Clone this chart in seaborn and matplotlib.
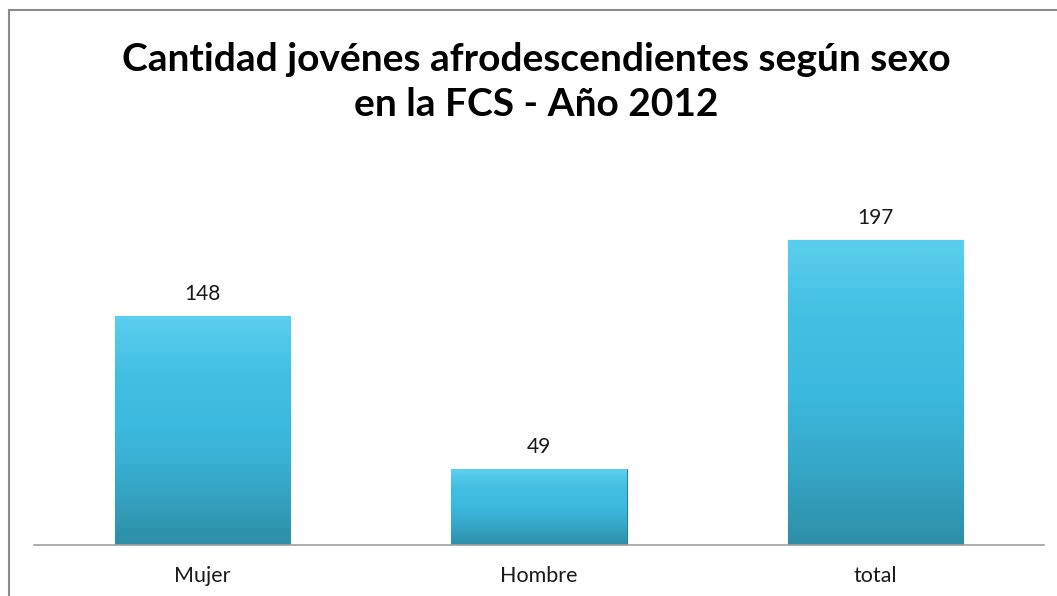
import numpy as np
import pandas as pd
import matplotlib
matplotlib.use('Agg')
import matplotlib.pyplot as plt
import seaborn as sns
from matplotlib.patches import Rectangle
from matplotlib.colors import LinearSegmentedColormap

# data
categories = ['Mujer', 'Hombre', 'total']
values = [148, 49, 197]
title = 'Cantidad jovénes afrodescendientes según sexo\nen la FCS - Año 2012'

sns.set_style('white')
plt.rcParams['font.family'] = ['Lato', 'DejaVu Sans']

df = pd.DataFrame({'cat': categories, 'val': values})

fig = plt.figure(figsize=(10.57, 5.96), dpi=100)
ax = fig.add_axes([34 / 1057, 1 - 545 / 596, 1010 / 1057, 365 / 596])

sns.barplot(data=df, x='cat', y='val', color='#3cb8dc', width=0.52,
            saturation=1, ax=ax, edgecolor='#2a7f96', linewidth=0.8)

# vertical gradient inside each bar
cmap = LinearSegmentedColormap.from_list(
    'bar', ['#2e8ea8', '#36a6c6', '#3cb9de', '#42bfe2', '#5ccfee'])
grad = np.linspace(0, 1, 256).reshape(-1, 1)
for p in ax.patches:
    x0, y0 = p.get_x(), p.get_y()
    w, h = p.get_width(), p.get_height()
    im = ax.imshow(grad, cmap=cmap, origin='lower', aspect='auto',
                   extent=[x0, x0 + w, y0, y0 + h], zorder=p.get_zorder() + 0.1)
    im.set_clip_path(p)

for c in ax.containers:
    ax.bar_label(c, fmt='%d', padding=9, fontsize=15, color='#1a1a1a')

ax.set_xlim(-0.5, 2.5)
ax.set_ylim(0, 365 / 1.546)
ax.set_xlabel('')
ax.set_ylabel('')
ax.set_yticks([])
ax.tick_params(axis='x', length=0, pad=15, labelsize=15.5, labelcolor='#1a1a1a')
for s in ['top', 'right', 'left']:
    ax.spines[s].set_visible(False)
ax.spines['bottom'].set_color('#a0a0a0')
ax.spines['bottom'].set_linewidth(1.2)

fig.text(536 / 1057, 1 - 82 / 596, title, ha='center', va='center',
         fontsize=28, fontweight='bold', linespacing=1.37, color='black')

# chart border (left and top edges visible)
fig.patches.append(Rectangle((9 / 1057, -0.1), 1.2, 1.1 - 10 / 596,
                             transform=fig.transFigure, fill=False,
                             edgecolor='#8c8c8c', linewidth=1.5))

fig.savefig('out.png', dpi=100)
